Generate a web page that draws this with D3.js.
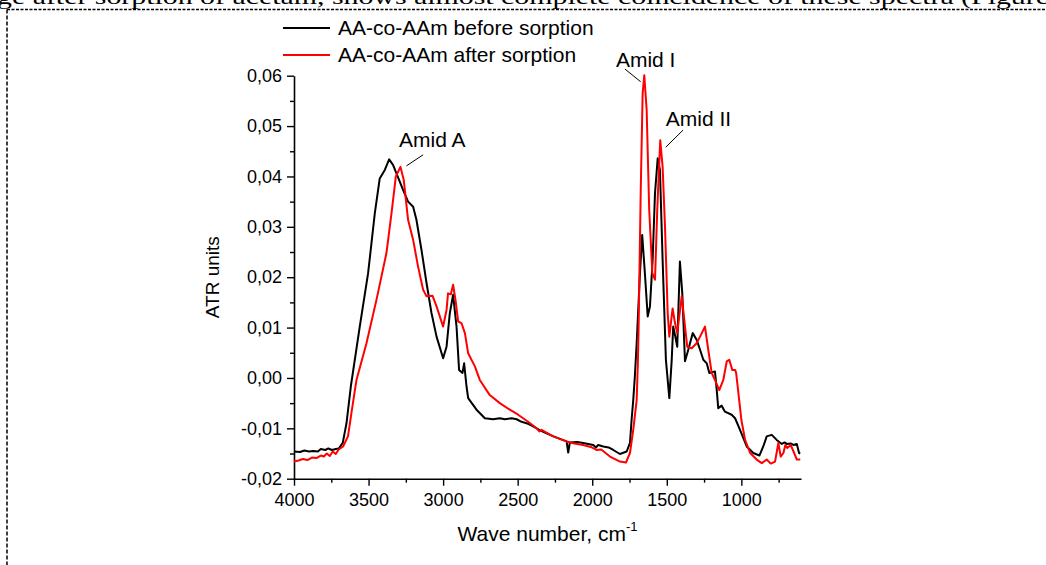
<!DOCTYPE html>
<html>
<head>
<meta charset="utf-8">
<script src="https://cdn.jsdelivr.net/npm/d3@7/dist/d3.min.js"></script>
<style>
  html, body { margin: 0; padding: 0; background: #fff; }
  svg { display: block; }
  text { font-family: "Liberation Sans", Arial, sans-serif; fill: #000; }
</style>
</head>
<body>
<svg id="chart" width="1046" height="565"></svg>
<script>
// ---------- data ----------
const seriesNames = ["AA-co-AAm before sorption", "AA-co-AAm after sorption"];
const seriesColors = ["#000000", "#ff0000"];

// [wavenumber cm-1, ATR units]
const beforeSorption = [
  [4000,-0.0146],[3960,-0.0147],[3930,-0.0144],[3900,-0.0146],[3870,-0.0145],[3840,-0.0146],
  [3820,-0.0141],[3790,-0.0143],[3770,-0.0140],[3745,-0.0143],[3720,-0.0141],[3700,-0.0140],
  [3673,-0.0129],[3648,-0.0090],[3619,-0.0017],[3559,0.0102],[3503,0.0208],[3458,0.0327],
  [3425,0.0396],[3391,0.0413],[3362,0.0434],[3336,0.0423],[3313,0.0406],[3268,0.0373],
  [3235,0.0350],[3201,0.0340],[3179,0.0314],[3145,0.0254],[3111,0.0188],[3078,0.0129],
  [3044,0.0082],[3000,0.0039],[2977,0.0062],[2955,0.0129],[2933,0.0165],[2910,0.0102],
  [2893,0.0016],[2870,0.0010],[2859,0.0029],[2843,-0.0017],[2832,-0.0040],[2776,-0.0063],
  [2720,-0.0080],[2665,-0.0082],[2620,-0.0080],[2586,-0.0082],[2540,-0.0080],[2507,-0.0082],
  [2474,-0.0087],[2430,-0.0091],[2396,-0.0096],[2350,-0.0104],[2306,-0.0110],[2260,-0.0116],
  [2217,-0.0121],[2172,-0.0126],[2161,-0.0148],[2150,-0.0128],[2100,-0.0127],[2061,-0.0129],
  [1993,-0.0133],[1975,-0.0138],[1960,-0.0133],[1926,-0.0136],[1890,-0.0138],[1859,-0.0143],
  [1814,-0.0151],[1769,-0.0146],[1747,-0.0129],[1736,-0.0083],[1725,-0.0044],[1714,0.0004],
  [1702,0.0069],[1680,0.0208],[1665,0.0284],[1647,0.0208],[1628,0.0122],[1613,0.0142],
  [1595,0.0234],[1579,0.0367],[1561,0.0436],[1546,0.0413],[1528,0.0234],[1506,0.0036],
  [1483,-0.0040],[1467,0.0036],[1457,0.0102],[1443,0.0082],[1430,0.0062],[1412,0.0231],
  [1396,0.0168],[1378,0.0033],[1356,0.0056],[1326,0.0089],[1300,0.0076],[1277,0.0056],
  [1255,0.0036],[1232,0.0029],[1215,0.0010],[1177,0.0013],[1165,-0.0024],[1155,-0.0060],
  [1132,-0.0055],[1110,-0.0067],[1065,-0.0073],[1042,-0.0080],[1009,-0.0103],[964,-0.0136],
  [920,-0.0149],[879,-0.0154],[853,-0.0136],[830,-0.0116],[796,-0.0113],[763,-0.0123],
  [729,-0.0131],[710,-0.0128],[695,-0.0131],[670,-0.0130],[651,-0.0133],[628,-0.0131],
  [613,-0.0149],[605,-0.0150]
];

const afterSorption = [
  [4000,-0.0166],[3970,-0.0164],[3940,-0.0161],[3910,-0.0163],[3880,-0.0158],[3850,-0.0159],
  [3820,-0.0154],[3800,-0.0156],[3780,-0.0150],[3760,-0.0155],[3740,-0.0146],[3720,-0.0151],
  [3700,-0.0142],[3671,-0.0136],[3638,-0.0116],[3615,-0.0070],[3581,-0.0004],[3514,0.0069],
  [3447,0.0155],[3380,0.0248],[3346,0.0327],[3317,0.0400],[3286,0.0419],[3264,0.0393],
  [3235,0.0314],[3201,0.0274],[3168,0.0221],[3134,0.0175],[3111,0.0162],[3071,0.0163],
  [3044,0.0142],[3000,0.0102],[2977,0.0135],[2967,0.0168],[2948,0.0166],[2933,0.0185],
  [2917,0.0155],[2899,0.0112],[2877,0.0109],[2854,0.0089],[2832,0.0049],[2787,0.0023],
  [2754,-0.0004],[2687,-0.0034],[2620,-0.0050],[2553,-0.0063],[2497,-0.0073],[2430,-0.0087],
  [2373,-0.0100],[2355,-0.0106],[2340,-0.0103],[2262,-0.0116],[2172,-0.0126],[2120,-0.0130],
  [2061,-0.0133],[2010,-0.0137],[1971,-0.0143],[1940,-0.0142],[1881,-0.0156],[1814,-0.0166],
  [1774,-0.0168],[1747,-0.0149],[1725,-0.0103],[1702,-0.0044],[1694,0.0030],[1689,0.0102],
  [1675,0.0367],[1662,0.0565],[1651,0.0601],[1635,0.0532],[1618,0.0334],[1597,0.0208],
  [1579,0.0195],[1564,0.0334],[1544,0.0472],[1528,0.0419],[1512,0.0300],[1494,0.0129],
  [1483,0.0082],[1461,0.0138],[1445,0.0109],[1430,0.0089],[1400,0.0162],[1385,0.0122],
  [1363,0.0062],[1333,0.0059],[1300,0.0069],[1277,0.0082],[1244,0.0102],[1222,0.0056],
  [1199,0.0010],[1177,-0.0004],[1148,-0.0024],[1121,-0.0004],[1098,0.0033],[1081,0.0036],
  [1061,0.0016],[1042,0.0016],[1035,0.0010],[1022,-0.0024],[1000,-0.0083],[975,-0.0123],
  [941,-0.0149],[897,-0.0162],[863,-0.0169],[830,-0.0162],[803,-0.0170],[774,-0.0166],
  [752,-0.0129],[736,-0.0156],[718,-0.0149],[705,-0.0133],[692,-0.0139],[669,-0.0133],
  [646,-0.0149],[628,-0.0162],[605,-0.0162]
];

const xDomain = [4000, 600];
const yDomain = [-0.02, 0.06];
const xTicks = [4000, 3500, 3000, 2500, 2000, 1500, 1000];
const xMinorTicks = [3750, 3250, 2750, 2250, 1750, 1250, 750];
const yTicks = [-0.02, -0.01, 0.00, 0.01, 0.02, 0.03, 0.04, 0.05, 0.06];
const yMinorTicks = [-0.015, -0.005, 0.005, 0.015, 0.025, 0.035, 0.045, 0.055];

// annotations: label anchor and leader line endpoints, in data units
const annotations = [
  { text: "Amid A",  tx: 3296, ty: 0.0458, lx1: 3134, ly1: 0.0443, lx2: 3246, ly2: 0.0421 },
  { text: "Amid I",  tx: 1841, ty: 0.0618, lx1: 1780, ly1: 0.0613, lx2: 1675, ly2: 0.0588 },
  { text: "Amid II", tx: 1507, ty: 0.0500, lx1: 1391, ly1: 0.0492, lx2: 1507, ly2: 0.0458 }
];

const headerText = "ge after sorption of acetam, shows almost complete coincidence of these spectra (Figure";

// ---------- drawing ----------
const svg = d3.select("#chart");
const W = 1046, H = 565;
const margin = { left: 294, right: 245, top: 75.7, bottom: 86.3 };

const x = d3.scaleLinear().domain(xDomain).range([margin.left, W - margin.right]);
const y = d3.scaleLinear().domain(yDomain).range([H - margin.bottom, margin.top]);

// page context: clipped header text and dotted frame
svg.append("text")
  .attr("x", -3).attr("y", 4)
  .attr("textLength", 1052).attr("lengthAdjust", "spacingAndGlyphs")
  .style("font-family", "'Liberation Serif', 'Times New Roman', serif")
  .style("font-size", "22px")
  .text(headerText);
svg.append("line")
  .attr("x1", 7).attr("x2", W).attr("y1", 9.5).attr("y2", 9.5)
  .attr("stroke", "#000").attr("stroke-width", 1.3).attr("stroke-dasharray", "3,1.5");
svg.append("line")
  .attr("x1", 7).attr("x2", 7).attr("y1", 9.5).attr("y2", H)
  .attr("stroke", "#000").attr("stroke-width", 1.5).attr("stroke-dasharray", "4,2");

const fmt = d => {
  const s = d3.format(".2f")(Math.abs(d) < 1e-9 ? 0 : d).replace("\u2212", "-");
  return s.replace(".", ",");
};

// Y axis
svg.append("g").attr("transform", `translate(${margin.left},0)`)
  .call(d3.axisLeft(y).tickValues(yTicks).tickFormat(fmt).tickSize(7).tickPadding(5).tickSizeOuter(0));
svg.append("g").attr("transform", `translate(${margin.left},0)`)
  .call(d3.axisLeft(y).tickValues(yMinorTicks).tickFormat("").tickSize(4).tickSizeOuter(0))
  .select(".domain").remove();

// X axis
svg.append("g").attr("transform", `translate(0,${H - margin.bottom})`)
  .call(d3.axisBottom(x).tickValues(xTicks).tickFormat(d3.format("d")).tickSize(7).tickPadding(8).tickSizeOuter(0));
svg.append("g").attr("transform", `translate(0,${H - margin.bottom})`)
  .call(d3.axisBottom(x).tickValues(xMinorTicks).tickFormat("").tickSize(4).tickSizeOuter(0))
  .select(".domain").remove();

svg.selectAll(".domain").attr("stroke", "#000").attr("stroke-width", 1.6);
svg.selectAll(".tick line").attr("stroke", "#000").attr("stroke-width", 1.4);
svg.selectAll(".tick text").style("font-size", "18px").style("font-family", "'Liberation Sans', Arial, sans-serif").attr("fill", "#000");

// Axis titles
const xt = svg.append("text")
  .attr("x", (x.range()[0] + x.range()[1]) / 2).attr("y", 541)
  .attr("text-anchor", "middle")
  .style("font-size", "21px");
xt.append("tspan").text("Wave number, cm");
xt.append("tspan").attr("dy", -10).style("font-size", "13px").text("-1");

svg.append("text")
  .attr("transform", `translate(219,${(y.range()[0] + y.range()[1]) / 2}) rotate(-90)`)
  .attr("text-anchor", "middle")
  .style("font-size", "19px")
  .text("ATR units");

// Lines
const line = d3.line().x(d => x(d[0])).y(d => y(d[1]));
const plot = svg.append("g");
[beforeSorption, afterSorption].forEach((s, i) => {
  plot.append("path").datum(s)
    .attr("fill", "none")
    .attr("stroke", seriesColors[i])
    .attr("stroke-width", 2)
    .attr("stroke-linejoin", "round")
    .attr("d", line);
});

// Annotations
annotations.forEach(a => {
  svg.append("text").attr("x", x(a.tx)).attr("y", y(a.ty)).style("font-size", "21px").text(a.text);
  svg.append("line")
    .attr("x1", x(a.lx1)).attr("y1", y(a.ly1)).attr("x2", x(a.lx2)).attr("y2", y(a.ly2))
    .attr("stroke", "#000").attr("stroke-width", 1);
});

// Legend
const legend = svg.append("g");
seriesNames.forEach((n, i) => {
  const ly = 28 + i * 27;
  legend.append("line").attr("x1", 283).attr("x2", 330).attr("y1", ly).attr("y2", ly)
    .attr("stroke", seriesColors[i]).attr("stroke-width", 2);
  legend.append("text").attr("x", 338).attr("y", ly + 7).style("font-size", "21px").text(n);
});
</script>
</body>
</html>
